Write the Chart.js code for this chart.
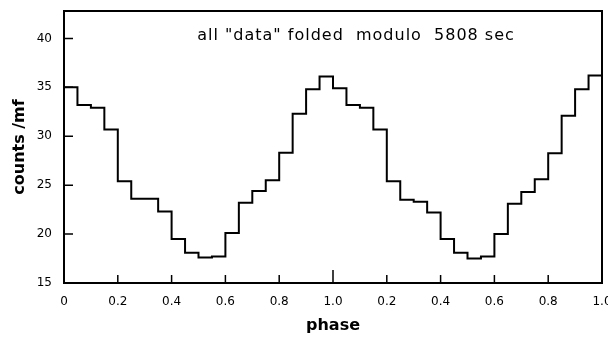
<!DOCTYPE html>
<html>
<head>
<meta charset="utf-8">
<script src="https://cdn.jsdelivr.net/npm/chart.js@4.4.0/dist/chart.umd.min.js"></script>
<style>
  html, body { margin: 0; padding: 0; background: #fff; }
  #wrap { width: 608px; height: 337px; }
</style>
</head>
<body>
<div id="wrap"><canvas id="chart" width="608" height="337"></canvas></div>
<script>
// bin edges in phase (two cycles, bins of 0.05)
const phaseEdges = [
  0.00, 0.05, 0.10, 0.15, 0.20, 0.25, 0.30, 0.35, 0.40, 0.45,
  0.50, 0.55, 0.60, 0.65, 0.70, 0.75, 0.80, 0.85, 0.90, 0.95,
  1.00, 1.05, 1.10, 1.15, 1.20, 1.25, 1.30, 1.35, 1.40, 1.45,
  1.50, 1.55, 1.60, 1.65, 1.70, 1.75, 1.80, 1.85, 1.90, 1.95,
  2.00
];
// counts per bin
const counts = [
  35.0, 33.2, 32.9, 30.7, 25.4, 23.6, 23.6, 22.3, 19.5, 18.1,
  17.6, 17.7, 20.1, 23.2, 24.4, 25.5, 28.3, 32.3, 34.8, 36.1,
  34.9, 33.2, 32.9, 30.7, 25.4, 23.5, 23.3, 22.2, 19.5, 18.1,
  17.5, 17.7, 20.0, 23.1, 24.3, 25.6, 28.25, 32.1, 34.8, 36.2
];
const xTickValues = [0, 0.2, 0.4, 0.6, 0.8, 1.0, 1.2, 1.4, 1.6, 1.8, 2.0];
const xTickLabels = ['0', '0.2', '0.4', '0.6', '0.8', '1.0', '0.2', '0.4', '0.6', '0.8', '1.0'];
const yTickValues = [15, 20, 25, 30, 35, 40];

const points = phaseEdges.map((p, i) => ({ x: p, y: counts[Math.min(i, counts.length - 1)] }));

const FONT = '"DejaVu Sans", sans-serif';

// frame, inward ticks and the title inside the plot
const framePlugin = {
  id: 'frame',
  afterDraw(chart) {
    const { ctx, chartArea: a, scales } = chart;
    ctx.save();
    ctx.strokeStyle = '#000';
    ctx.lineWidth = 2;
    ctx.strokeRect(a.left, a.top, a.right - a.left, a.bottom - a.top);
    ctx.lineWidth = 1.5;
    ctx.beginPath();
    xTickValues.forEach(v => {
      const px = scales.x.getPixelForValue(v);
      const len = (v === 1.0) ? 13 : 8;
      ctx.moveTo(px, a.bottom);
      ctx.lineTo(px, a.bottom - len);
    });
    yTickValues.forEach(v => {
      const py = scales.y.getPixelForValue(v);
      ctx.moveTo(a.left, py);
      ctx.lineTo(a.left + 9, py);
    });
    ctx.stroke();
    ctx.fillStyle = '#000';
    ctx.font = '16px ' + FONT;
    ctx.letterSpacing = '1px';
    ctx.textAlign = 'center';
    ctx.textBaseline = 'middle';
    ctx.fillText('all "data" folded  modulo  5808 sec', 356, 36);
    ctx.restore();
  }
};

function noPad(s) {
  s.paddingLeft = 0;
  s.paddingRight = 0;
  s.paddingTop = 0;
  s.paddingBottom = 0;
}

new Chart(document.getElementById('chart'), {
  type: 'line',
  data: {
    datasets: [{
      data: points,
      stepped: 'before',
      borderColor: '#000',
      borderWidth: 2,
      pointRadius: 0,
      fill: false
    }]
  },
  options: {
    responsive: false,
    animation: false,
    layout: { padding: { top: 11, right: 6, left: 0, bottom: 0 } },
    plugins: { legend: { display: false }, tooltip: { enabled: false } },
    scales: {
      x: {
        type: 'linear',
        min: 0,
        max: 2,
        grid: { display: false, drawTicks: false },
        border: { display: false },
        afterBuildTicks: s => { s.ticks = xTickValues.map(v => ({ value: v })); },
        afterFit: s => { s.height = 54; noPad(s); },
        ticks: {
          padding: 12,
          maxRotation: 0,
          autoSkip: false,
          color: '#000',
          font: { family: FONT, size: 12 },
          callback: (v, i) => xTickLabels[i]
        },
        title: {
          display: true,
          text: 'phase',
          color: '#000',
          font: { family: FONT, size: 16, weight: 'bold' },
          padding: { top: 0, bottom: 2 }
        }
      },
      y: {
        min: 15,
        max: 42.8,
        grid: { display: false, drawTicks: false },
        border: { display: false },
        afterBuildTicks: s => { s.ticks = yTickValues.map(v => ({ value: v })); },
        afterFit: s => { s.width = 64; noPad(s); },
        ticks: {
          padding: 12,
          color: '#000',
          font: { family: FONT, size: 12 }
        },
        title: {
          display: true,
          text: 'counts /mf',
          color: '#000',
          font: { family: FONT, size: 16, weight: 'bold' },
          padding: { top: 10, bottom: 0 }
        }
      }
    }
  },
  plugins: [framePlugin]
});
</script>
</body>
</html>
